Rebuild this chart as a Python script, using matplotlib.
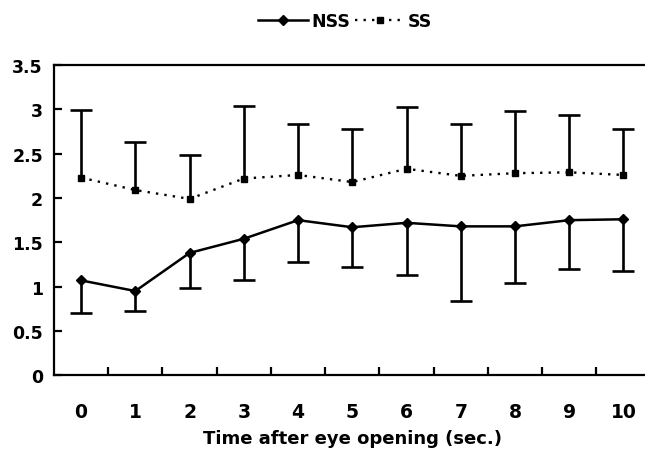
import numpy as np
import matplotlib
matplotlib.use("Agg")
import matplotlib.pyplot as plt
from matplotlib.ticker import FixedLocator

plt.rcParams['font.family'] = ['DejaVu Sans']
plt.rcParams['font.weight'] = 'bold'

time = list(range(11))
nss = [1.07, 0.95, 1.38, 1.54, 1.75, 1.67, 1.72, 1.68, 1.68, 1.75, 1.76]
nss_low = [0.70, 0.72, 0.98, 1.08, 1.28, 1.22, 1.13, 0.84, 1.04, 1.20, 1.18]
ss = [2.23, 2.09, 1.99, 2.22, 2.26, 2.18, 2.33, 2.25, 2.28, 2.29, 2.26]
ss_high = [2.99, 2.63, 2.48, 3.04, 2.83, 2.78, 3.03, 2.84, 2.98, 2.94, 2.78]
yticks = [0, 0.5, 1, 1.5, 2, 2.5, 3, 3.5]
ytick_labels = ['0', '0.5', '1', '1.5', '2', '2.5', '3', '3.5']

fig = plt.figure(figsize=(6.45, 4.56), dpi=100)
ax = fig.add_axes([0.0837, 0.175, 0.925, 0.68])

x = np.array(time)
nss_a = np.array(nss)
ss_a = np.array(ss)
zeros = np.zeros_like(nss_a)

c1 = ax.errorbar(x, nss_a, yerr=[nss_a - np.array(nss_low), zeros], fmt='-D',
                 color='black', lw=1.8, ms=5.5, elinewidth=1.9, capsize=8,
                 capthick=1.9, label='NSS')
c1[1][1].set_visible(False)
c2 = ax.errorbar(x, ss_a, yerr=[zeros, np.array(ss_high) - ss_a], fmt='s',
                 linestyle=(0, (1.0, 2.6)), color='black', lw=1.7, ms=5,
                 elinewidth=1.9, capsize=8, capthick=1.9, label='SS')
c2[1][0].set_visible(False)

ax.set_xlim(-0.5, 10.5)
ax.set_ylim(0, 3.5)
ax.set_yticks(yticks)
ax.set_yticklabels(ytick_labels)
ax.set_xticks(time)
ax.set_xticklabels([str(t) for t in time])
ax.xaxis.set_minor_locator(FixedLocator(np.arange(0.5, 10.5, 1)))
ax.tick_params(axis='x', which='major', length=0, pad=19, labelsize=13.5)
ax.tick_params(axis='x', which='minor', direction='in', length=6, width=1.6)
ax.tick_params(axis='y', direction='in', length=6, width=1.6, pad=8, labelsize=12.5)
for s in ['left', 'bottom', 'top']:
    ax.spines[s].set_linewidth(1.6)
ax.spines['right'].set_visible(False)
ax.set_xlabel('Time after eye opening (sec.)', fontsize=13, fontweight='bold',
              labelpad=6)

leg = fig.legend(handles=[c1[0], c2[0]], labels=['NSS', 'SS'],
                 loc='upper center', ncol=2,
                 bbox_to_anchor=(0.535, 1.005), frameon=False, fontsize=12.5,
                 handlelength=2.9, handletextpad=0.15, columnspacing=0.3)

fig.savefig('out.png', dpi=100)
